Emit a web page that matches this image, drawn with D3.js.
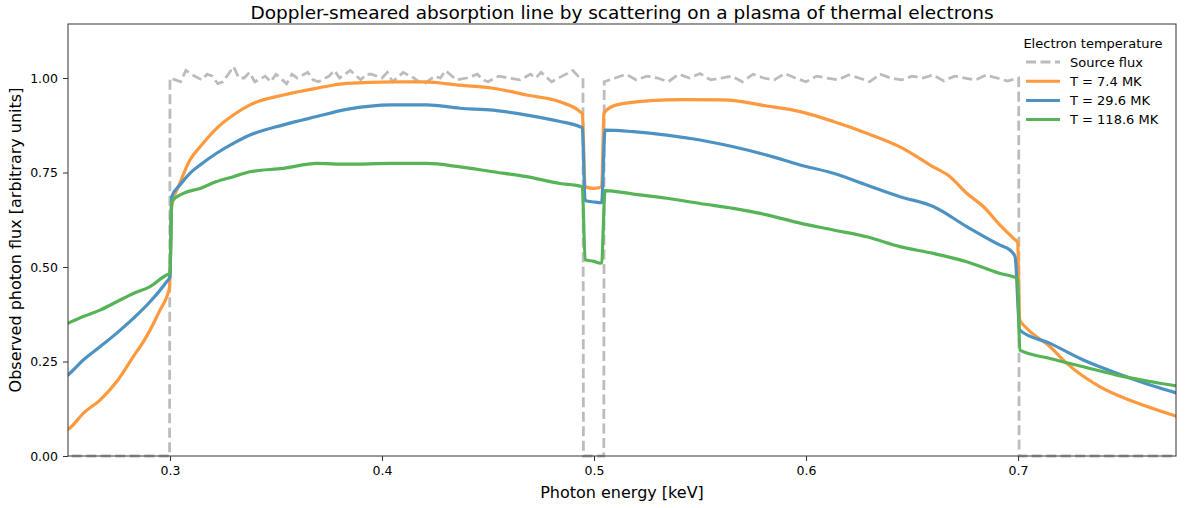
<!DOCTYPE html>
<html>
<head>
<meta charset="utf-8">
<script src="https://cdn.jsdelivr.net/npm/d3@7"></script>
<style>
  body { margin: 0; background: #fff; }
  text { font-family: "DejaVu Sans", sans-serif; fill: #000; }
</style>
</head>
<body>
<script>
// values: [energy keV, flux]
const sourceFlux = [
  [0.24, 0], [0.2998, 0], [0.3, 1.0], [0.3025, 0.995], [0.305, 0.99], [0.3075, 1.02], [0.31, 1.01], [0.315, 0.995],
  [0.3175, 1.01], [0.32, 1.005], [0.3225, 0.985], [0.325, 0.99], [0.3275, 1.01], [0.33, 1.03], [0.3325, 1.0],
  [0.335, 1.0], [0.3375, 1.015], [0.34, 0.99], [0.345, 1.005], [0.3475, 0.99], [0.35, 1.01], [0.355, 0.985],
  [0.3575, 1.01], [0.36, 1.0], [0.365, 1.015], [0.3675, 0.995], [0.37, 0.99], [0.375, 1.005], [0.3775, 1.02],
  [0.38, 1.0], [0.385, 1.02], [0.39, 0.995], [0.3925, 1.01], [0.395, 1.01], [0.4, 1.0], [0.4025, 1.015],
  [0.405, 0.99], [0.41, 1.015], [0.415, 1.0], [0.4175, 0.99], [0.42, 0.985], [0.425, 1.005], [0.4275, 1.0],
  [0.43, 1.02], [0.435, 0.995], [0.44, 1.0], [0.445, 1.01], [0.4475, 0.995], [0.45, 0.99], [0.455, 1.005],
  [0.46, 1.0], [0.465, 0.995], [0.47, 1.01], [0.4725, 1.0], [0.475, 1.015], [0.48, 0.99], [0.485, 1.005],
  [0.49, 1.02], [0.4925, 1.005], [0.4948, 1.0],
  [0.495, 0], [0.5046, 0], [0.5048, 0.99], [0.51, 1.0], [0.515, 1.01], [0.52, 0.995], [0.525, 1.005],
  [0.53, 1.0], [0.535, 0.99], [0.54, 1.01], [0.545, 1.0], [0.55, 1.012], [0.555, 0.995], [0.56, 1.0],
  [0.565, 1.005], [0.57, 0.99], [0.575, 1.01], [0.58, 1.0], [0.585, 0.995], [0.59, 1.012], [0.595, 1.0],
  [0.6, 0.99], [0.605, 1.005], [0.61, 1.0], [0.615, 0.995], [0.62, 1.008], [0.625, 1.0], [0.63, 0.99],
  [0.635, 1.01], [0.64, 1.0], [0.645, 0.995], [0.65, 1.005], [0.655, 1.0], [0.66, 1.008], [0.665, 0.992],
  [0.67, 1.005], [0.675, 1.0], [0.68, 0.995], [0.685, 1.008], [0.69, 1.0], [0.695, 0.992], [0.7003, 1.0],
  [0.7005, 0], [0.79, 0]
];

const fluxT7 = [
  [0.2500, 0.064], [0.2528, 0.074], [0.2591, 0.113], [0.267, 0.148], [0.2749, 0.197], [0.2827, 0.263],
  [0.2874, 0.302], [0.2906, 0.333], [0.2953, 0.386], [0.2984, 0.42], [0.2998, 0.447], [0.3008, 0.66],
  [0.3047, 0.722], [0.3094, 0.783], [0.3142, 0.818], [0.322, 0.867], [0.3299, 0.902], [0.3377, 0.929],
  [0.3535, 0.955], [0.3692, 0.973], [0.3833, 0.986], [0.405, 0.99], [0.42, 0.99], [0.4368, 0.981],
  [0.4524, 0.973], [0.4683, 0.955], [0.484, 0.937], [0.4934, 0.911], [0.4945, 0.905], [0.4958, 0.712],
  [0.5, 0.708], [0.5036, 0.712], [0.5047, 0.906], [0.5052, 0.911], [0.5107, 0.929], [0.5264, 0.94],
  [0.5421, 0.943], [0.561, 0.942], [0.5815, 0.926], [0.5972, 0.911], [0.6129, 0.885], [0.6286, 0.854],
  [0.6443, 0.818], [0.66, 0.765], [0.6679, 0.739], [0.6758, 0.695], [0.6836, 0.66], [0.6915, 0.611],
  [0.6978, 0.576], [0.6998, 0.565], [0.7008, 0.36], [0.7041, 0.338], [0.7151, 0.289], [0.723, 0.245],
  [0.7387, 0.183], [0.7544, 0.144], [0.7760, 0.103]
];

const fluxT30 = [
  [0.2500, 0.206], [0.2528, 0.219], [0.2591, 0.254], [0.267, 0.289], [0.2749, 0.325], [0.2827, 0.364],
  [0.2906, 0.408], [0.2984, 0.461], [0.3, 0.474], [0.3008, 0.686], [0.3047, 0.717], [0.3094, 0.748],
  [0.3142, 0.77], [0.322, 0.801], [0.3299, 0.827], [0.3377, 0.849], [0.3535, 0.876], [0.3692, 0.898],
  [0.3833, 0.917], [0.405, 0.929], [0.4211, 0.929], [0.4368, 0.92], [0.4524, 0.915], [0.4683, 0.902],
  [0.484, 0.885], [0.4934, 0.871], [0.4945, 0.868], [0.4958, 0.676], [0.5, 0.672], [0.5036, 0.67],
  [0.5052, 0.862], [0.5186, 0.858], [0.5343, 0.849], [0.55, 0.836], [0.5657, 0.818], [0.5815, 0.796],
  [0.5972, 0.77], [0.6129, 0.748], [0.6286, 0.717], [0.6443, 0.686], [0.66, 0.66], [0.6758, 0.607],
  [0.6915, 0.558], [0.6962, 0.545], [0.6986, 0.527], [0.7008, 0.333], [0.7151, 0.298], [0.7308, 0.254],
  [0.7466, 0.219], [0.7623, 0.188], [0.7760, 0.165]
];

const fluxT119 = [
  [0.2500, 0.346], [0.2591, 0.369], [0.267, 0.386], [0.2749, 0.408], [0.2827, 0.43], [0.2906, 0.448],
  [0.2984, 0.479], [0.3, 0.483], [0.3008, 0.673], [0.3063, 0.695], [0.3142, 0.708], [0.322, 0.726],
  [0.3299, 0.739], [0.3377, 0.752], [0.3535, 0.761], [0.3692, 0.774], [0.3833, 0.772], [0.405, 0.774],
  [0.4211, 0.774], [0.4368, 0.765], [0.4524, 0.752], [0.4683, 0.739], [0.484, 0.721], [0.4934, 0.714],
  [0.4945, 0.712], [0.4958, 0.519], [0.5, 0.515], [0.503, 0.51], [0.5036, 0.512], [0.5052, 0.702],
  [0.5186, 0.693], [0.5343, 0.682], [0.55, 0.668], [0.5657, 0.655], [0.5815, 0.638], [0.5972, 0.616],
  [0.6129, 0.598], [0.6286, 0.58], [0.6443, 0.554], [0.66, 0.536], [0.6758, 0.514], [0.6915, 0.483],
  [0.6978, 0.474], [0.6998, 0.47], [0.7008, 0.28], [0.7151, 0.258], [0.7308, 0.236], [0.7466, 0.214],
  [0.7623, 0.197], [0.7760, 0.184]
];

const seriesNames = ["T = 7.4 MK", "T = 29.6 MK", "T = 118.6 MK"];
const seriesColors = ["#ff993e", "#4c92c3", "#56b356"];
const xTicks = [0.3, 0.4, 0.5, 0.6, 0.7];
const yTicks = [0, 0.25, 0.5, 0.75, 1.0];

const W = 1186, H = 508;
const mLeft = 68, mRight = 1176, mTop = 24, mBottom = 456;

const svg = d3.select("body").append("svg").attr("width", W).attr("height", H);

const x = d3.scaleLinear().domain([0.2519, 0.7745]).range([mLeft, mRight]);
const y = d3.scaleLinear().domain([0, 1.1429]).range([mBottom, mTop]);

svg.append("clipPath").attr("id", "plotclip")
  .append("rect").attr("x", mLeft).attr("y", mTop - 2)
  .attr("width", mRight - mLeft).attr("height", mBottom - mTop + 4);

const plot = svg.append("g").attr("clip-path", "url(#plotclip)");

const line = d3.line().x(d => x(d[0])).y(d => y(d[1]));

// source flux, dashed grey
plot.append("path")
  .attr("d", line(sourceFlux))
  .attr("fill", "none")
  .attr("stroke", "#bcbcbc")
  .attr("stroke-width", 2.8)
  .attr("stroke-dasharray", "10,4.5");

const curves = [fluxT7, fluxT30, fluxT119];
const smooth = d3.line().x(d => x(d[0])).y(d => y(d[1])).curve(d3.curveMonotoneX);
curves.forEach((c, i) => {
  plot.append("path")
    .attr("d", smooth(c))
    .attr("fill", "none")
    .attr("stroke", seriesColors[i])
    .attr("stroke-width", 3.2)
    .attr("stroke-linejoin", "round");
});

// axes
const xAxis = svg.append("g").attr("transform", `translate(0,${mBottom})`)
  .call(d3.axisBottom(x).tickValues(xTicks).tickFormat(d3.format(".1f")).tickSize(5).tickPadding(5));
const yAxis = svg.append("g").attr("transform", `translate(${mLeft},0)`)
  .call(d3.axisLeft(y).tickValues(yTicks).tickFormat(d3.format(".2f")).tickSize(5).tickPadding(5));
[xAxis, yAxis].forEach(a => {
  a.select(".domain").remove();
  a.selectAll("line").attr("stroke", "#333").attr("stroke-width", 1);
  a.selectAll("text").style("font-size", "12.5px").style("font-family", "DejaVu Sans");
});

// frame
svg.append("rect").attr("x", mLeft).attr("y", mTop)
  .attr("width", mRight - mLeft).attr("height", mBottom - mTop)
  .attr("fill", "none").attr("stroke", "#333").attr("stroke-width", 1);

// labels
svg.append("text").attr("x", (mLeft + mRight) / 2).attr("y", 19)
  .attr("text-anchor", "middle").style("font-size", "18.5px")
  .text("Doppler-smeared absorption line by scattering on a plasma of thermal electrons");
svg.append("text").attr("x", (mLeft + mRight) / 2).attr("y", 498)
  .attr("text-anchor", "middle").style("font-size", "16px")
  .text("Photon energy [keV]");
svg.append("text").attr("transform", `translate(21,${(mTop + mBottom) / 2}) rotate(-90)`)
  .attr("text-anchor", "middle").style("font-size", "16px")
  .text("Observed photon flux [arbitrary units]");

// legend
const leg = svg.append("g");
leg.append("text").attr("x", 1093).attr("y", 48).attr("text-anchor", "middle")
  .style("font-size", "13px").text("Electron temperature");
const legItems = [{ name: "Source flux", color: "#bcbcbc", dash: "10,4.5" }]
  .concat(seriesNames.map((n, i) => ({ name: n, color: seriesColors[i], dash: null })));
legItems.forEach((it, i) => {
  const cy = 62 + i * 19.2;
  leg.append("line").attr("x1", 1026).attr("x2", 1060).attr("y1", cy).attr("y2", cy)
    .attr("stroke", it.color).attr("stroke-width", 3)
    .attr("stroke-dasharray", it.dash);
  leg.append("text").attr("x", 1070).attr("y", cy + 4.5)
    .style("font-size", "13px").text(it.name);
});
</script>
</body>
</html>
